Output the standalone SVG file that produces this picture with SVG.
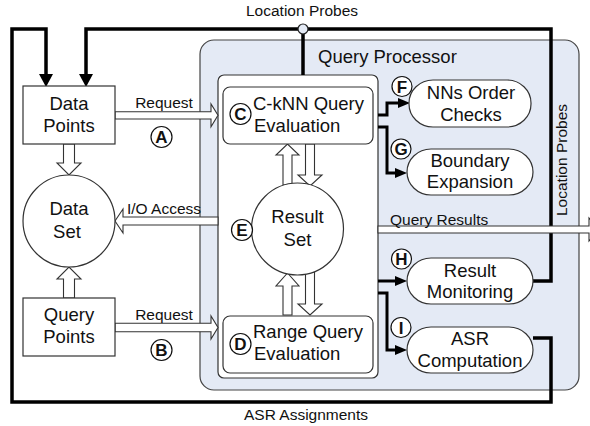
<svg xmlns="http://www.w3.org/2000/svg" width="590" height="426" viewBox="0 0 590 426">
<defs>
<style>
text{font-family:"Liberation Sans",Arial,Helvetica,sans-serif;fill:#111}
.n{font-size:18.5px;text-anchor:middle}
.nl{font-size:18.5px}
.l{font-size:15.5px}
.lc{font-size:15.5px;text-anchor:middle}
.box{fill:#fff;stroke:#333;stroke-width:1.2}
.hol{fill:#fff;stroke:#333;stroke-width:1.1;stroke-linejoin:miter}
.thick{fill:none;stroke:#000;stroke-width:3.5;stroke-linejoin:miter}
.mid{fill:none;stroke:#000;stroke-width:3;stroke-linejoin:miter}
.tag circle{fill:#fff;stroke:#111;stroke-width:1.2}
.tag text{font-size:17px;font-weight:bold;text-anchor:middle}
</style>
<marker id="ah" viewBox="0 0 12 10" refX="4" refY="5" markerWidth="12" markerHeight="10" markerUnits="userSpaceOnUse" orient="auto"><path d="M0,0L12,5L0,10z" fill="#000"/></marker>
<marker id="ahb" viewBox="0 0 13 14" refX="4" refY="7" markerWidth="13" markerHeight="14" markerUnits="userSpaceOnUse" orient="auto"><path d="M0,0L13,7L0,14z" fill="#000"/></marker>
</defs>

<g id="query-processor">
<rect x="200" y="40" width="379" height="350" rx="14" fill="#e4eaf5" stroke="#444" stroke-width="1.2"/>
<text class="nl" x="318" y="63">Query Processor</text>
<rect x="218" y="75" width="160" height="303" rx="6" class="box"/>
</g>

<g id="connectors">
<path class="thick" d="M533,338H551V402H12V29H46V78" marker-end="url(#ahb)"/>
<path class="thick" d="M533,281H551V29H86V78" marker-end="url(#ahb)"/>
<path class="thick" d="M303,29V75"/>
<circle cx="303" cy="29" r="5" fill="#e4eaf5" stroke="#222" stroke-width="1.2"/>
<path class="mid" d="M378,115H387V103H402" marker-end="url(#ah)"/>
<path class="mid" d="M378,127H387V173H399" marker-end="url(#ah)"/>
<path class="mid" d="M378,281H399" marker-end="url(#ah)"/>
<path class="mid" d="M378,293H387V350H399" marker-end="url(#ah)"/>
<polygon class="hol" points="115,111.7 211,111.7 211,104 218,115.3 211,126.7 211,119 115,119"/>
<polygon class="hol" points="115,323.3 211,323.3 211,316 218,327.5 211,339 211,331.7 115,331.7"/>
<polygon class="hol" points="218,217 123,217 123,209 115,221 123,233 123,225 218,225"/>
<polygon class="hol" points="378,226 589,226 589,218 599,229.5 589,241 589,233 378,233"/>
<polygon class="hol" points="63.5,144 63.5,163 57,163 69,175 81,163 74.5,163 74.5,144"/>
<polygon class="hol" points="63.5,298 63.5,279 57,279 69,267 81,279 74.5,279 74.5,298"/>
<polygon class="hol" points="283,185 283,155 276,155 287.5,144 299,155 292,155 292,185"/>
<polygon class="hol" points="305.5,144 305.5,175 298,175 310,186 322,175 314.5,175 314.5,144"/>
<polygon class="hol" points="283,315 283,286 276,286 287.5,273 299,286 292,286 292,315"/>
<polygon class="hol" points="305.5,272 305.5,304 298,304 310,315 322,304 314.5,304 314.5,272"/>
<text class="lc" x="302" y="16">Location Probes</text>
<text class="lc" transform="translate(567,160) rotate(-90)">Location Probes</text>
<text class="lc" x="306" y="420">ASR Assignments</text>
<text class="lc" x="164" y="108">Request</text>
<text class="lc" x="164" y="320">Request</text>
<text class="l" x="127" y="214">I/O Access</text>
<text class="l" x="390" y="225">Query Results</text>
</g>

<g id="data-points">
<rect x="23" y="86" width="92" height="58" class="box"/>
<text class="n" x="69" y="110">Data</text>
<text class="n" x="69" y="132">Points</text>
</g>
<g id="data-set">
<circle cx="69" cy="221" r="46" class="box"/>
<text class="n" x="69" y="215">Data</text>
<text class="n" x="67" y="238">Set</text>
</g>
<g id="query-points">
<rect x="23" y="298" width="92" height="58" class="box"/>
<text class="n" x="69" y="321">Query</text>
<text class="n" x="69" y="343">Points</text>
</g>
<g id="cknn">
<rect x="223" y="87" width="150" height="57" rx="7" class="box"/>
<text class="nl" x="253" y="110">C-kNN Query</text>
<text class="nl" x="254" y="132">Evaluation</text>
</g>
<g id="range">
<rect x="223" y="316" width="150" height="57" rx="7" class="box"/>
<text class="nl" x="253" y="338">Range Query</text>
<text class="nl" x="254" y="360">Evaluation</text>
</g>
<g id="result-set">
<circle cx="297.5" cy="229" r="46" class="box"/>
<text class="n" x="297.5" y="223">Result</text>
<text class="n" x="297.5" y="246">Set</text>
</g>
<g id="nns-order">
<rect x="409" y="80" width="122" height="47" rx="24" ry="23" class="box"/>
<text class="n" x="471" y="99">NNs Order</text>
<text class="n" x="471" y="121">Checks</text>
</g>
<g id="boundary">
<rect x="407" y="149" width="126" height="46" rx="24" ry="23" class="box"/>
<text class="n" x="470" y="167">Boundary</text>
<text class="n" x="470" y="188">Expansion</text>
</g>
<g id="result-monitoring">
<rect x="407" y="258" width="126" height="46" rx="24" ry="23" class="box"/>
<text class="n" x="470" y="277">Result</text>
<text class="n" x="470" y="298">Monitoring</text>
</g>
<g id="asr">
<rect x="407" y="327" width="126" height="46" rx="24" ry="23" class="box"/>
<text class="n" x="470" y="345">ASR</text>
<text class="n" x="470" y="367">Computation</text>
</g>

<g id="tags" class="tag">
<g id="tag-a"><circle cx="161.5" cy="137" r="10.5"/><text x="161.5" y="143">A</text></g>
<g id="tag-b"><circle cx="161.5" cy="350" r="10.5"/><text x="161.5" y="356">B</text></g>
<g id="tag-c"><circle cx="240.5" cy="114" r="10.5"/><text x="240.5" y="120">C</text></g>
<g id="tag-d"><circle cx="240.5" cy="344" r="10.5"/><text x="240.5" y="350">D</text></g>
<g id="tag-e"><circle cx="242" cy="230" r="10.5"/><text x="242" y="236">E</text></g>
<g id="tag-f"><circle cx="402" cy="86.5" r="10"/><text x="402" y="92.5">F</text></g>
<g id="tag-g"><circle cx="401" cy="149" r="10"/><text x="401" y="155">G</text></g>
<g id="tag-h"><circle cx="401.5" cy="259" r="10"/><text x="401.5" y="265">H</text></g>
<g id="tag-i"><circle cx="401" cy="327.5" r="10"/><text x="401" y="333.5">I</text></g>
</g>
</svg>
